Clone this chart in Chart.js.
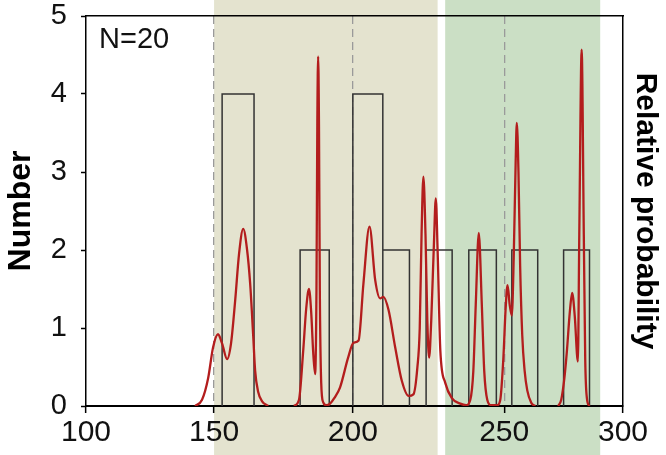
<!DOCTYPE html>
<html>
<head>
<meta charset="utf-8">
<script src="https://cdn.jsdelivr.net/npm/chart.js@4.4.1/dist/chart.umd.min.js"></script>
<style>
  html, body { margin: 0; padding: 0; background: #fff; }
  #wrap { width: 666px; height: 455px; }
</style>
</head>
<body>
<div id="wrap"><canvas id="mainChart"></canvas></div>
<script>
// ============================
// Data
// ============================
const xMin = 100;
const xMax = 300;
const xStep = 50;
const yMin = 0;
const yMax = 5;

// histogram bins (outlined bars)
const binLeft  = [152.9, 181.0, 200.0, 209.9, 224.2, 238.3, 253.2, 275.0];
const binRight = [164.4, 191.5, 209.9, 218.7, 232.8, 247.4, 264.1, 285.9];
const binCount = [4, 2, 4, 2, 2, 2, 2, 2];

// relative probability curve (null = break in the line)
const curveX = [
  142.6, 145.3, 147.7, 149.6, 151.4, 152.9, 154.7, 156.1, 157.6, 159.0, 160.5, 161.9, 163.0, 164.1, 164.8, 165.9, 167.3, 169.5,
  172.0,
  178.8, 180.6, 182.1, 183.2, 184.2, 185.0, 185.7, 186.4, 186.9, 187.2, 187.5, 187.8, 188.1, 188.6, 189.3, 190.4,
  191.8, 193.3, 195.4, 198.3, 200.2, 201.9, 203.5, 205.5, 207.4, 209.0, 210.1, 211.8, 214.0, 216.2, 218.4, 220.0,
  221.3, 222.1, 222.7, 223.3, 224.0, 224.6, 225.2, 225.9, 226.8, 227.4, 228.0, 228.9, 230.5, 232.7, 235.5, 237.4,
  238.8, 239.8, 240.6, 241.6, 242.6, 243.4, 244.4, 245.7, 247.7, 248.7, 249.7, 250.6, 251.4, 252.3, 253.2, 254.0,
  254.8, 255.3, 256.0, 256.7, 257.6, 258.6, 259.7, 261.4, 263.1,
  268.0,
  272.7, 274.0, 275.3, 276.4, 277.6, 278.6, 279.7, 281.0, 281.6, 282.6, 283.5, 284.1, 284.8, 285.8
];
const curveY = [
  0, 0.08, 0.36, 0.75, 0.92, 0.80, 0.60, 0.80, 1.35, 1.95, 2.27, 2.00, 1.57, 0.90, 0.45, 0.18, 0.06, 0,
  null,
  0, 0.08, 0.70, 1.25, 1.50, 1.20, 0.70, 0.41, 1.50, 3.60, 4.48, 3.60, 1.50, 0.30, 0.05, 0.01,
  0.03, 0.10, 0.24, 0.62, 0.81, 0.84, 1.57, 2.30, 1.61, 1.38, 1.40, 1.23, 0.75, 0.32, 0.13, 0.15,
  0.49, 1.00, 2.20, 2.94, 2.20, 1.10, 0.62, 1.10, 2.10, 2.66, 2.00, 0.71, 0.30, 0.10, 0.03, 0.01,
  0.08, 0.45, 1.30, 2.22, 1.30, 0.45, 0.08, 0.01, 0.01, 0.08, 0.60, 1.25, 1.55, 1.30, 1.16, 1.90,
  3.10, 3.63, 3.00, 1.80, 0.90, 0.45, 0.20, 0.04, 0,
  null,
  0, 0.08, 0.35, 0.71, 1.20, 1.45, 1.15, 0.57, 2.20, 4.57, 2.20, 0.60, 0.10, 0
];

// shaded intervals behind the plot
const bandStart = [150, 230.5];
const bandEnd   = [228.0, 290.4];
const bandColor = ["#e4e3cf", "#cbdfc5"];

// dashed reference lines
const dashedAt = [150, 200, 250];

const sampleLabel = "N=20";

// ============================
// Uneven x axis (tick spacing in the figure is not uniform)
// ============================
const knotValue = [100, 150, 200, 250, 300];
const knotDecimal = [0, 0.2385, 0.4969, 0.7788, 1];

function bentDecimal(v) {
  let i = 1;
  while (i < knotValue.length - 1 && v > knotValue[i]) i++;
  const t = (v - knotValue[i - 1]) / (knotValue[i] - knotValue[i - 1]);
  return knotDecimal[i - 1] + t * (knotDecimal[i] - knotDecimal[i - 1]);
}

function bentValue(d) {
  let i = 1;
  while (i < knotDecimal.length - 1 && d > knotDecimal[i]) i++;
  const t = (d - knotDecimal[i - 1]) / (knotDecimal[i] - knotDecimal[i - 1]);
  return knotValue[i - 1] + t * (knotValue[i] - knotValue[i - 1]);
}

class BentScale extends Chart.LinearScale {
  static id = "bent";
  getPixelForValue(value) {
    if (value === null || value === undefined || isNaN(value)) return NaN;
    return this.getPixelForDecimal(bentDecimal(value));
  }
  getValueForPixel(pixel) {
    return bentValue(this.getDecimalForPixel(pixel));
  }
}
Chart.register(BentScale);

// ============================
// Build datasets
// ============================
const histPoints = [];
binLeft.forEach((left, i) => {
  histPoints.push(
    { x: left, y: 0 },
    { x: left, y: binCount[i] },
    { x: binRight[i], y: binCount[i] },
    { x: binRight[i], y: 0 },
    { x: binRight[i], y: null }
  );
});

const curvePoints = curveX.map((x, i) => ({ x: x, y: curveY[i] }));

// ============================
// Plugins
// ============================
const bandsPlugin = {
  id: "bands",
  beforeDraw(chart) {
    const { ctx, scales, height } = chart;
    const x = scales.x;
    ctx.save();
    bandStart.forEach((start, i) => {
      const x0 = x.getPixelForValue(start);
      const x1 = x.getPixelForValue(bandEnd[i]);
      ctx.fillStyle = bandColor[i];
      ctx.fillRect(x0, 0, x1 - x0, height);
    });
    ctx.restore();
  }
};

const labelPlugin = {
  id: "sampleLabel",
  afterDraw(chart) {
    const { ctx, chartArea } = chart;
    ctx.save();
    ctx.font = "29px 'Liberation Sans', Arial, sans-serif";
    ctx.fillStyle = "#111";
    ctx.textAlign = "left";
    ctx.textBaseline = "alphabetic";
    ctx.fillText(sampleLabel, chartArea.left + 13, chartArea.top + 32);
    ctx.restore();
  }
};

const FONT = "'Liberation Sans', Arial, sans-serif";

// keep the plot box where the figure has it
function fixVertical(width) {
  return (scale) => {
    scale.width = width;
    scale.paddingTop = 0;
    scale.paddingBottom = 0;
  };
}

// ============================
// Chart
// ============================
const ctx = document.getElementById("mainChart").getContext("2d");

new Chart(ctx, {
  type: "line",
  data: {
    datasets: [
      {
        label: "Relative probability",
        data: curvePoints,
        borderColor: "#b31d1d",
        borderWidth: 2.3,
        pointRadius: 0,
        cubicInterpolationMode: "monotone",
        spanGaps: false,
        fill: false
      },
      {
        label: "Number",
        data: histPoints,
        borderColor: "#333",
        borderWidth: 1.5,
        pointRadius: 0,
        tension: 0,
        spanGaps: false,
        fill: false
      }
    ]
  },
  options: {
    responsive: true,
    maintainAspectRatio: false,
    animation: false,
    layout: { padding: 0 },
    plugins: {
      legend: { display: false },
      tooltip: { enabled: false }
    },
    scales: {
      x: {
        type: "bent",
        position: "bottom",
        min: xMin,
        max: xMax,
        ticks: {
          stepSize: xStep,
          color: "#111",
          padding: 2,
          maxRotation: 0,
          font: { size: 30, family: FONT }
        },
        grid: {
          color: (c) => (c.tick && dashedAt.includes(c.tick.value)) ? "#9a9a9a" : "rgba(0,0,0,0)",
          lineWidth: 1.3,
          tickColor: "#000",
          tickLength: 7,
          tickWidth: 1.5
        },
        border: { color: "#000", width: 2, dash: [8, 5] },
        afterFit: (scale) => { scale.height = 49; }
      },
      xTop: {
        type: "linear",
        position: "top",
        min: xMin,
        max: xMax,
        ticks: { display: false },
        grid: { display: false },
        border: { color: "#000", width: 1.5 },
        afterFit: (scale) => { scale.height = 16; }
      },
      y: {
        position: "left",
        min: yMin,
        max: yMax,
        ticks: {
          stepSize: 1,
          color: "#111",
          padding: 14,
          font: { size: 29, family: FONT }
        },
        grid: {
          drawOnChartArea: false,
          tickColor: "#000",
          tickLength: 5,
          tickWidth: 1.5
        },
        border: { color: "#000", width: 1.5 },
        title: {
          display: true,
          text: "Number",
          color: "#000",
          padding: { top: 2, bottom: 0 },
          font: { size: 32, weight: "bold", family: FONT }
        },
        afterFit: fixVertical(86)
      },
      yRight: {
        position: "right",
        min: yMin,
        max: yMax,
        ticks: { display: false },
        grid: { display: false },
        border: { color: "#000", width: 1.5 },
        title: {
          display: true,
          text: "Relative probability",
          color: "#000",
          padding: { top: 3, bottom: 0 },
          font: { size: 30, weight: "bold", family: FONT }
        },
        afterFit: fixVertical(43)
      }
    }
  },
  plugins: [bandsPlugin, labelPlugin]
});
</script>
</body>
</html>
